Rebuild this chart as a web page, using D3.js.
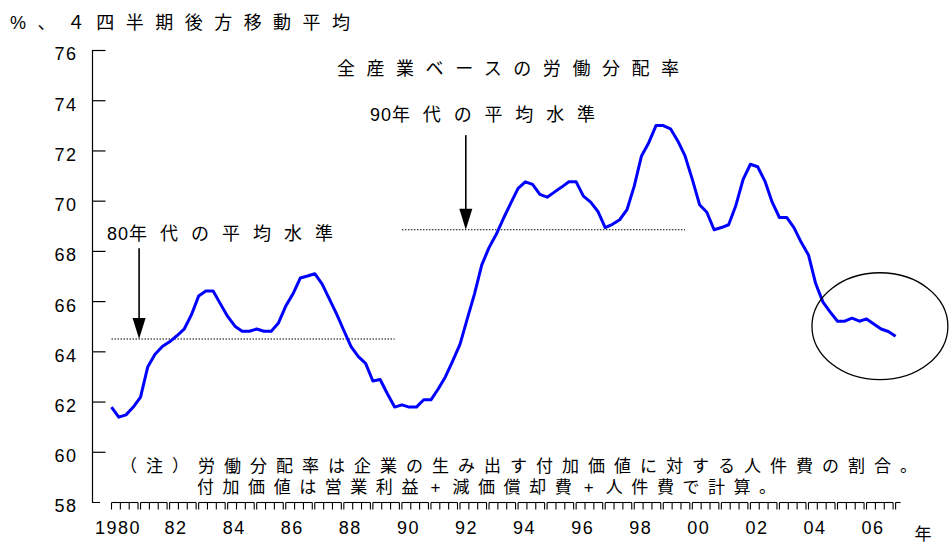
<!DOCTYPE html>
<html lang="ja">
<head>
  <meta charset="UTF-8">
  <title>全産業ベースの労働分配率</title>
  <script src="https://d3js.org/d3.v7.min.js"></script>
  <style>
    body { margin: 0; background: #fff; }
    text { font-family: "Liberation Sans", "Noto Sans CJK JP", sans-serif; fill: #000; }
  </style>
</head>
<body>
  <svg width="950" height="543"></svg>

  <script>
    // 労働分配率（%、4四半期後方移動平均）1980Q1 〜 2007Q1
    const startYear = 1980;
    const laborShare = [
      61.78, 61.38, 61.47, 61.78, 62.18, 63.39, 63.88, 64.19,
      64.38, 64.62, 64.88, 65.45, 66.20, 66.40, 66.40, 65.89,
      65.39, 65.00, 64.80, 64.80, 64.89, 64.80, 64.80, 65.13,
      65.80, 66.29, 66.92, 67.00, 67.09, 66.69, 66.09, 65.49,
      64.83, 64.19, 63.79, 63.52, 62.82, 62.88, 62.31, 61.78,
      61.87, 61.78, 61.78, 62.07, 62.07, 62.50, 62.99, 63.62,
      64.28, 65.29, 66.29, 67.44, 68.13, 68.66, 69.30, 69.90,
      70.49, 70.75, 70.65, 70.25, 70.14, 70.34, 70.54, 70.75,
      70.75, 70.18, 69.94, 69.57, 68.93, 69.06, 69.24, 69.64,
      70.58, 71.78, 72.31, 72.99, 72.99, 72.86, 72.38, 71.78,
      70.85, 69.84, 69.54, 68.84, 68.93, 69.04, 69.81, 70.85,
      71.45, 71.35, 70.78, 69.94, 69.33, 69.33, 68.93, 68.34,
      67.84, 66.69, 65.96, 65.56, 65.20, 65.20, 65.32, 65.20,
      65.29, 65.09, 64.89, 64.79, 64.60
    ];

    // 平均水準
    const avg80s = 64.49;
    const avg90s = 68.84;

    const yTicks = [60, 62, 64, 66, 68, 70, 72, 74, 76];
    const yLabels = [58, 60, 62, 64, 66, 68, 70, 72, 74, 76];
    const xLabelYears = d3.range(1980, 2007, 2);

    const svg = d3.select("svg");

    const x = d3.scaleLinear().domain([1980, 2007]).range([111.5, 895.6]);
    const y = d3.scaleLinear().domain([58, 76]).range([502, 50]);

    const series = laborShare.map((v, i) => ({ t: startYear + i / 4, v: v }));

    // 縦軸
    svg.append("path")
       .attr("d", `M92.5,${y(76)}V502.5H100`)
       .attr("fill", "none")
       .attr("stroke", "#000")
       .attr("stroke-width", 1.2);

    const yAxis = svg.append("g")
       .attr("transform", "translate(92.5,0)")
       .call(d3.axisLeft(y)
         .tickValues(yLabels)
         .tickSizeInner(-13)
         .tickSizeOuter(0)
         .tickPadding(15)
         .tickFormat(d3.format("d")));
    yAxis.select(".domain").remove();
    yAxis.selectAll(".tick line")
       .attr("stroke-width", 1.2)
       .attr("display", d => yTicks.includes(d) ? null : "none");
    yAxis.selectAll(".tick text")
       .attr("dy", "0.55em")
       .style("font-size", "18px")
       .style("letter-spacing", "1.5px");

    // 横軸（年ごとの目盛り）
    const yearGroups = d3.range(1980, 2008);
    const axisY = 502.5;
    const xg = svg.append("g").attr("stroke", "#000").attr("stroke-width", 1.1).attr("fill", "none");
    yearGroups.forEach(yr => {
      const x0 = x(yr);
      const x1 = yr < 2007 ? x(yr + 1) - 2.5 : x(yr) + 5;
      xg.append("line").attr("x1", x0).attr("x2", x1).attr("y1", axisY).attr("y2", axisY);
      const n = yr < 2007 ? 4 : 1;
      for (let k = 0; k < n; k++) {
        const xt = n === 1 ? x0 : x0 + (x1 - x0) * k / (n - 1);
        xg.append("line").attr("x1", xt).attr("x2", xt).attr("y1", axisY).attr("y2", axisY + 7);
      }
    });

    const xAxis = svg.append("g")
       .attr("transform", "translate(6,528)")
       .call(d3.axisBottom(x)
         .tickValues(xLabelYears)
         .tickSize(0)
         .tickPadding(0)
         .tickFormat(d => d === 1980 ? "1980" : String(d % 100).padStart(2, "0")));
    xAxis.select(".domain").remove();
    xAxis.selectAll(".tick text")
       .attr("dy", "0.35em")
       .style("font-size", "18px")
       .style("letter-spacing", "1.5px");

    svg.append("text")
       .attr("x", 923).attr("y", 534).attr("dy", "0.35em")
       .attr("text-anchor", "middle")
       .style("font-size", "17px")
       .text("年");

    // 平均水準（点線）
    svg.append("line")
       .attr("x1", x(1980)).attr("x2", x(1989.75))
       .attr("y1", y(avg80s)).attr("y2", y(avg80s))
       .attr("stroke", "#000").attr("stroke-width", 1.1)
       .attr("stroke-dasharray", "1.5,1.5");
    svg.append("line")
       .attr("x1", x(1990)).attr("x2", x(1999.75))
       .attr("y1", y(avg90s)).attr("y2", y(avg90s))
       .attr("stroke", "#000").attr("stroke-width", 1.1)
       .attr("stroke-dasharray", "1.5,1.5");

    // 矢印
    function arrow(xv, fromV, toV) {
      const xp = x(xv), y0 = y(fromV), y1 = y(toV);
      svg.append("line")
         .attr("x1", xp).attr("x2", xp).attr("y1", y0).attr("y2", y1 - 18)
         .attr("stroke", "#000").attr("stroke-width", 1.6);
      svg.append("path")
         .attr("d", `M${xp - 6.5},${y1 - 21}L${xp + 6.5},${y1 - 21}L${xp},${y1}Z`)
         .attr("fill", "#000");
    }
    arrow(1980.95, 68.11, avg80s);
    arrow(1992.2, 72.61, avg90s);

    // 労働分配率の線
    svg.append("path")
       .datum(series)
       .attr("fill", "none")
       .attr("stroke", "#0000ff")
       .attr("stroke-width", 3)
       .attr("stroke-linejoin", "round")
       .attr("d", d3.line().x(d => x(d.t)).y(d => y(d.v)));

    // 直近の楕円
    svg.append("ellipse")
       .attr("cx", x(2006.46)).attr("cy", y(65.0))
       .attr("rx", x(2006.46) - x(2004.12))
       .attr("ry", y(62.87) - y(65.0))
       .attr("fill", "none")
       .attr("stroke", "#000")
       .attr("stroke-width", 1.3);

    // テキスト（全角の字間を揃える）
    // parts: [文字列, "w" = 字間あり, "t" = 詰め（数字）, "s" = 半角を全角幅に]
    function label(parts, left, right, cy, size) {
      const t = svg.append("text")
         .attr("x", left).attr("y", cy).attr("dy", "0.35em")
         .style("font-size", size + "px");
      const spans = parts.map(([txt, mode]) => {
        const s = t.append("tspan").text(txt);
        return { s, mode, pad: 0 };
      });
      spans.forEach(p => {
        if (p.mode === "s") {
          p.pad = (size - p.s.node().getComputedTextLength()) / 2;
        }
      });
      const apply = sp => spans.forEach(p => {
        if (p.mode === "t") p.s.style("letter-spacing", "1px");
        else if (p.mode === "s") p.s.attr("dx", p.pad).style("letter-spacing", (sp + p.pad) + "px");
        else p.s.style("letter-spacing", sp + "px");
      });
      apply(0);
      const a = t.node().getComputedTextLength();
      apply(10);
      const b = (t.node().getComputedTextLength() - a) / 10;
      const sp = (right - left - a) / (b - 1);
      apply(sp);
    }
    label([["%、４四半期後方移動平均", "w"]], 10, 350, 23, 18);
    label([["全産業ベースの労働分配率", "w"]], 337, 679, 69, 18);
    label([["90", "t"], ["年代の平均水準", "w"]], 370, 595, 115, 18);
    label([["80", "t"], ["年代の平均水準", "w"]], 107, 333, 234, 18);
    label([["（注）労働分配率は企業の生み出す付加価値に対する人件費の割合。", "w"]], 120, 917, 466, 17);
    label([["付加価値は営業利益", "w"], ["+", "s"], ["減価償却費", "w"], ["+", "s"], ["人件費で計算。", "w"]], 197, 769, 487, 17);
  </script>
</body>
</html>
